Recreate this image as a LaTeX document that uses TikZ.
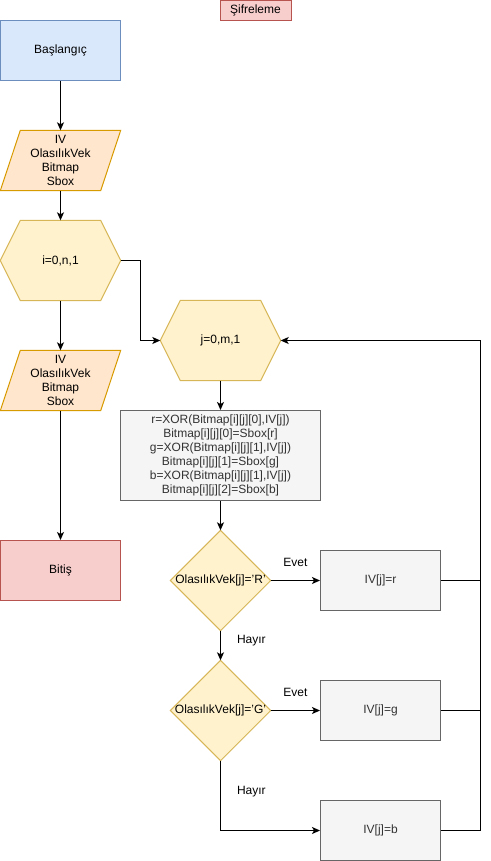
\documentclass[tikz,border=0pt]{standalone}
\usepackage{fontspec}
\setmainfont{Liberation Sans}
\usetikzlibrary{arrows.meta,calc,backgrounds}
\definecolor{startfill}{HTML}{DAE8FC}
\definecolor{startline}{HTML}{6C8EBF}
\definecolor{redfill}{HTML}{F8CECC}
\definecolor{redline}{HTML}{B85450}
\definecolor{iofill}{HTML}{FFE6CC}
\definecolor{ioline}{HTML}{D79B00}
\definecolor{loopfill}{HTML}{FFF2CC}
\definecolor{loopline}{HTML}{D6B656}
\definecolor{procfill}{HTML}{F5F5F5}
\definecolor{procline}{HTML}{666666}
\definecolor{proctext}{HTML}{333333}
\begin{document}
\begin{tikzpicture}[x=1pt,y=-1pt,
  every node/.style={font=\fontsize{12}{14}\selectfont, align=center, inner sep=0pt},
  startbox/.style={draw=startline, fill=startfill, line width=1pt, minimum width=120pt, minimum height=60pt},
  endbox/.style={draw=redline, fill=redfill, line width=1pt, minimum width=120pt, minimum height=60pt},
  procbox/.style={draw=procline, fill=procfill, line width=1pt, text=proctext},
  iobg/.style={draw=ioline, fill=iofill, line width=1pt, line join=miter},
  loopbg/.style={draw=loopline, fill=loopfill, line width=1pt},
  decbg/.style={draw=loopline, fill=loopfill, line width=1pt},
  arr/.style={draw, line width=1pt, -{Stealth[length=8pt,width=7pt,inset=2pt]}},
  conn/.style={draw, line width=1pt}]
\useasboundingbox (0,0) rectangle (490,861);

% title tag
\node[draw=redline, fill=redfill, line width=1pt, minimum width=71pt, minimum height=20pt] (title) at (255.5,10.5) {Şifreleme};

% left column
\node[startbox] (start) at (60.5,50.5) {Başlangıç};
\node[minimum width=120pt, minimum height=60pt] (in1) at (60.5,160.5) {IV\\OlasılıkVek\\Bitmap\\Sbox};
\node[minimum width=120pt, minimum height=80pt] (iloop) at (60.5,260.5) {i=0,n,1};
\node[minimum width=120pt, minimum height=60pt] (in2) at (60.5,380.5) {IV\\OlasılıkVek\\Bitmap\\Sbox};
\node[endbox] (stop) at (60.5,570.5) {Bitiş};

% inner loop
\node[minimum width=120pt, minimum height=80pt] (jloop) at (220.5,340.5) {j=0,m,1};
\node[procbox, minimum width=200pt, minimum height=90pt] (proc) at (220.5,455.5)
  {r=XOR(Bitmap[i][j][0],IV[j])\\Bitmap[i][j][0]=Sbox[r]\\g=XOR(Bitmap[i][j][1],IV[j])\\Bitmap[i][j][1]=Sbox[g]\\b=XOR(Bitmap[i][j][1],IV[j])\\Bitmap[i][j][2]=Sbox[b]};
\node[minimum width=100pt, minimum height=100pt] (decr) at (220.5,580.5) {OlasılıkVek[j]='R'};
\node[minimum width=100pt, minimum height=100pt] (decg) at (220.5,710.5) {OlasılıkVek[j]='G'};
\node[procbox, minimum width=120pt, minimum height=60pt] (setr) at (380.5,580.5) {IV[j]=r};
\node[procbox, minimum width=120pt, minimum height=60pt] (setg) at (380.5,710.5) {IV[j]=g};
\node[procbox, minimum width=120pt, minimum height=60pt] (setb) at (380.5,830.5) {IV[j]=b};
\coordinate (back) at (480.5,340.5);

% outlines of the non-rectangular shapes
\begin{scope}[on background layer]
  \foreach \n in {in1,in2}{
    \path[iobg] ($(\n.north west)+(20,0)$) -- (\n.north east) -- ($(\n.south east)+(-20,0)$) -- (\n.south west) -- cycle;
  }
  \foreach \n in {iloop,jloop}{
    \path[loopbg] (\n.west) -- ($(\n.north west)+(20,0)$) -- ($(\n.north east)+(-20,0)$) -- (\n.east) -- ($(\n.south east)+(-20,0)$) -- ($(\n.south west)+(20,0)$) -- cycle;
  }
  \foreach \n in {decr,decg}{
    \path[decbg] (\n.north) -- (\n.east) -- (\n.south) -- (\n.west) -- cycle;
  }
\end{scope}

% connectors
\draw[arr] (start) -- (in1);
\draw[arr] (in1) -- (iloop);
\draw[arr] (iloop) -- (in2);
\draw[arr] (in2) -- (stop);
\draw[arr] (iloop.east) -- ++(20,0) |- (jloop.west);
\draw[arr] (jloop) -- (proc);
\draw[arr] (proc) -- (decr.north);
\draw[arr] (decr.east) -- node[above=13pt] {Evet} (setr.west);
\draw[arr] (decr.south) -- node[pos=0.35, right=16pt] {Hayır} (decg.north);
\draw[arr] (decg.east) -- node[above=13pt] {Evet} (setg.west);
\draw[arr] (decg.south) |- node[pos=0.22, right=16pt] {Hayır} (setb.west);
\draw[conn] (setr.east) -- (setr.east -| back);
\draw[conn] (setg.east) -- (setg.east -| back);
\draw[arr] (setb.east) -| (back) -- (jloop.east);
\end{tikzpicture}
\end{document}
